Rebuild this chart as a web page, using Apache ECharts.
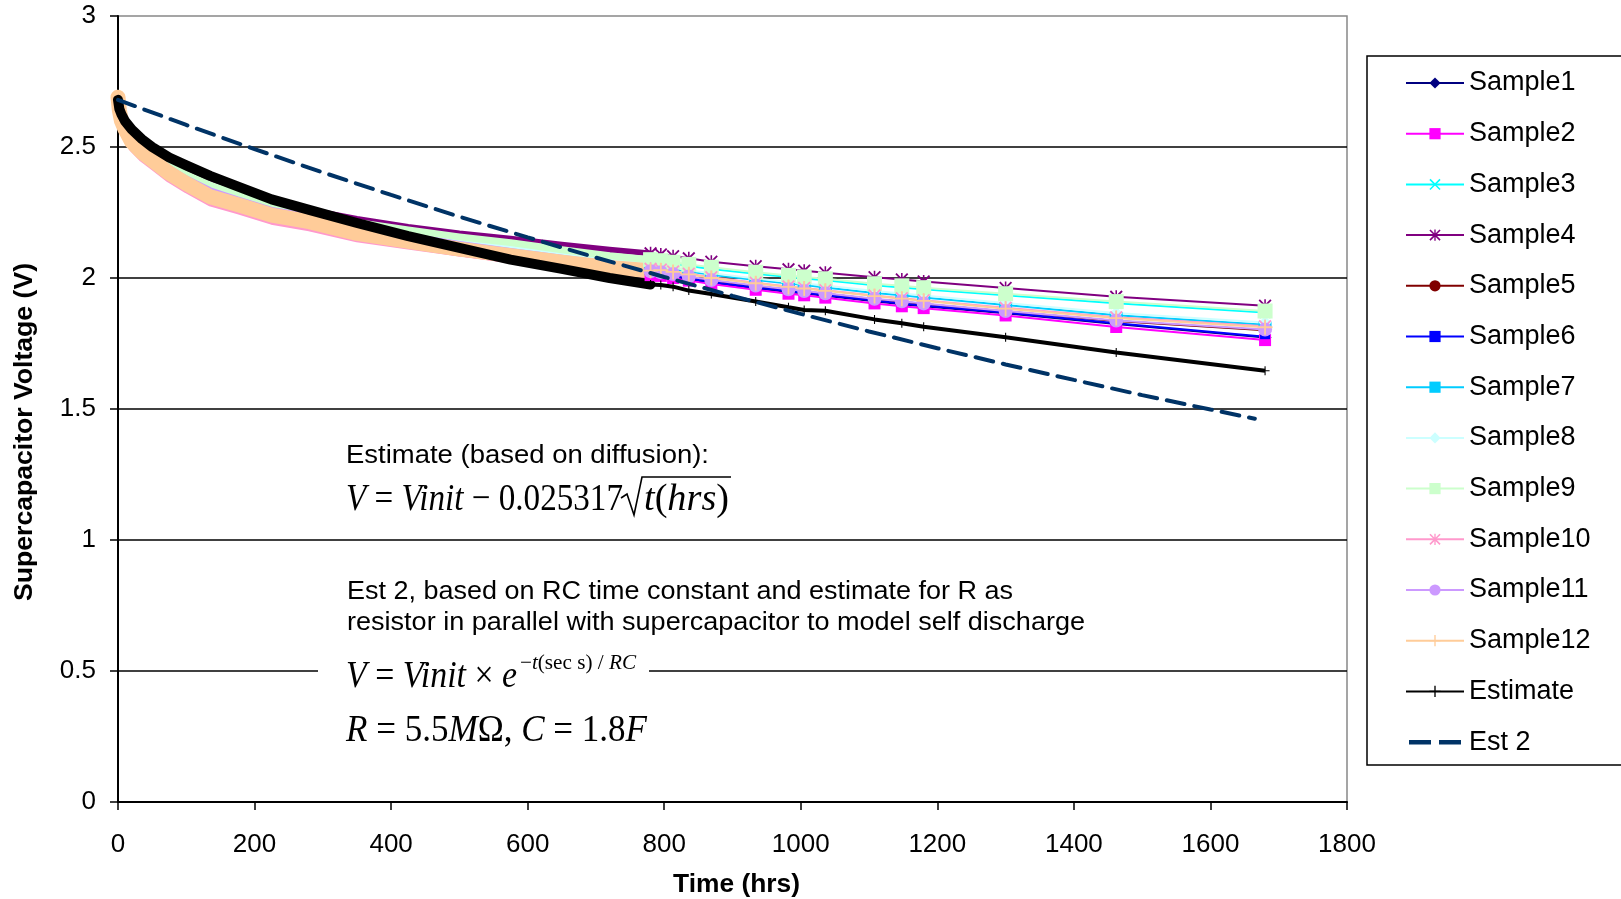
<!DOCTYPE html>
<html>
<head>
<meta charset="utf-8">
<script src="https://cdn.jsdelivr.net/npm/echarts@6/dist/echarts.min.js"></script>
<style>
  html, body { margin: 0; padding: 0; background: #fff; }
  #chart { width: 1621px; height: 899px; }
</style>
</head>
<body>
<div id="chart"></div>
<script>
// time axes (hrs)
const timeDense = [0, 2, 5, 10, 20, 35, 50, 75, 100, 135, 175, 225, 280, 350, 425, 500, 575, 650, 720, 780];
const timeSparse = [795, 813, 836, 869, 934, 982, 1005, 1036, 1108, 1148, 1180, 1300, 1462, 1680];
const timeEst2 = [0, 100, 200, 300, 400, 500, 600, 700, 800, 900, 1000, 1100, 1200, 1300, 1400, 1500, 1600, 1665];

// voltages, dense logging period (0-780 hrs)
const sample1Dense = [2.69, 2.632, 2.592, 2.562, 2.510, 2.469, 2.439, 2.389, 2.349, 2.299, 2.269, 2.229, 2.203, 2.159, 2.128, 2.098, 2.072, 2.047, 2.027, 2.015];
const sample2Dense = [2.69, 2.628, 2.588, 2.558, 2.506, 2.465, 2.435, 2.385, 2.345, 2.295, 2.265, 2.225, 2.199, 2.155, 2.124, 2.094, 2.068, 2.043, 2.023, 2.011];
const sample3Dense = [2.69, 2.645, 2.615, 2.585, 2.545, 2.505, 2.475, 2.425, 2.39, 2.35, 2.315, 2.275, 2.244, 2.206, 2.177, 2.151, 2.129, 2.102, 2.079, 2.064];
const sample4Dense = [2.70, 2.66, 2.63, 2.60, 2.56, 2.52, 2.49, 2.44, 2.40, 2.36, 2.33, 2.29, 2.26, 2.225, 2.195, 2.17, 2.15, 2.127, 2.108, 2.094];
const sample5Dense = [2.69, 2.638, 2.60, 2.57, 2.518, 2.477, 2.447, 2.397, 2.357, 2.307, 2.277, 2.237, 2.211, 2.167, 2.136, 2.106, 2.08, 2.055, 2.035, 2.024];
const sample6Dense = [2.69, 2.635, 2.595, 2.565, 2.513, 2.472, 2.442, 2.392, 2.352, 2.302, 2.272, 2.232, 2.206, 2.162, 2.131, 2.101, 2.075, 2.05, 2.03, 2.018];
const sample7Dense = [2.69, 2.64, 2.605, 2.575, 2.535, 2.495, 2.465, 2.415, 2.375, 2.335, 2.30, 2.26, 2.231, 2.192, 2.161, 2.134, 2.11, 2.083, 2.061, 2.045];
const sample8Dense = [2.69, 2.645, 2.61, 2.58, 2.54, 2.50, 2.47, 2.42, 2.38, 2.34, 2.305, 2.265, 2.236, 2.197, 2.166, 2.139, 2.115, 2.088, 2.066, 2.05];
const sample9Dense = [2.69, 2.65, 2.62, 2.59, 2.55, 2.51, 2.48, 2.43, 2.395, 2.355, 2.32, 2.28, 2.25, 2.212, 2.183, 2.157, 2.135, 2.108, 2.085, 2.07];
const sample10Dense = [2.68, 2.62, 2.575, 2.545, 2.495, 2.455, 2.425, 2.375, 2.335, 2.285, 2.255, 2.215, 2.19, 2.148, 2.12, 2.093, 2.072, 2.05, 2.038, 2.035];
const sample11Dense = [2.70, 2.655, 2.62, 2.59, 2.54, 2.50, 2.47, 2.42, 2.38, 2.335, 2.30, 2.26, 2.236, 2.192, 2.16, 2.13, 2.103, 2.077, 2.054, 2.026];
const sample12Dense = [2.69, 2.64, 2.60, 2.57, 2.52, 2.48, 2.45, 2.40, 2.36, 2.31, 2.28, 2.24, 2.215, 2.17, 2.14, 2.11, 2.085, 2.06, 2.04, 2.028];
const estimateDense = [2.68, 2.645, 2.625, 2.60, 2.567, 2.53, 2.50, 2.46, 2.43, 2.39, 2.35, 2.30, 2.26, 2.21, 2.16, 2.115, 2.07, 2.035, 2.00, 1.975];

// voltages, later spot readings
const sample1Sparse = [2.012, 2.005, 1.995, 1.982, 1.961, 1.947, 1.941, 1.932, 1.911, 1.900, 1.892, 1.865, 1.824, 1.773];
const sample2Sparse = [2.008, 2.000, 1.990, 1.977, 1.955, 1.940, 1.934, 1.925, 1.903, 1.892, 1.885, 1.857, 1.813, 1.763];
const sample3Sparse = [2.060, 2.054, 2.046, 2.034, 2.016, 2.004, 1.998, 1.991, 1.972, 1.964, 1.957, 1.934, 1.904, 1.868];
const sample4Sparse = [2.090, 2.083, 2.075, 2.062, 2.045, 2.033, 2.028, 2.020, 2.003, 1.994, 1.987, 1.962, 1.928, 1.894];
const sample5Sparse = [2.020, 2.013, 2.004, 1.990, 1.969, 1.955, 1.948, 1.940, 1.919, 1.909, 1.901, 1.872, 1.836, 1.801];
const sample6Sparse = [2.015, 2.008, 1.998, 1.985, 1.964, 1.950, 1.944, 1.935, 1.914, 1.903, 1.895, 1.868, 1.827, 1.776];
const sample7Sparse = [2.040, 2.033, 2.025, 2.012, 1.992, 1.979, 1.973, 1.964, 1.943, 1.934, 1.926, 1.897, 1.858, 1.822];
const sample8Sparse = [2.045, 2.038, 2.030, 2.018, 1.998, 1.985, 1.979, 1.971, 1.950, 1.941, 1.933, 1.905, 1.866, 1.830];
const sample9Sparse = [2.066, 2.060, 2.052, 2.041, 2.022, 2.010, 2.004, 1.997, 1.978, 1.970, 1.963, 1.940, 1.910, 1.874];
const sample10Sparse = [2.032, 2.025, 2.016, 2.003, 1.982, 1.968, 1.962, 1.953, 1.933, 1.923, 1.915, 1.886, 1.850, 1.816];
const sample11Sparse = [2.022, 2.015, 2.006, 1.992, 1.971, 1.957, 1.950, 1.942, 1.921, 1.911, 1.903, 1.874, 1.838, 1.803];
const sample12Sparse = [2.030, 2.023, 2.014, 2.000, 1.980, 1.966, 1.960, 1.951, 1.931, 1.921, 1.913, 1.883, 1.847, 1.812];
const estimateSparse = [1.973, 1.967, 1.952, 1.939, 1.910, 1.888, 1.878, 1.875, 1.842, 1.827, 1.814, 1.774, 1.716, 1.646];

const est2Values = [2.680, 2.584, 2.492, 2.403, 2.317, 2.234, 2.155, 2.078, 2.004, 1.932, 1.863, 1.796, 1.732, 1.670, 1.611, 1.553, 1.498, 1.463];

const xTicks = [0, 1800, 200];
const yTicks = [0, 3, 0.5];

const FONT = '"Liberation Sans", Arial, sans-serif';
const SERIF = '"Liberation Serif", "Times New Roman", serif';

const X_PATH = 'path://M0,1L1,0L5,4L9,0L10,1L6,5L10,9L9,10L5,6L1,10L0,9L4,5Z';
const STAR_PATH = 'path://M0,1L1,0L5,4L9,0L10,1L6,5L10,9L9,10L5,6L1,10L0,9L4,5Z M4.4,0L5.6,0L5.6,10L4.4,10Z';
const PLUS_PATH = 'path://M4.4,0L5.6,0L5.6,4.4L10,4.4L10,5.6L5.6,5.6L5.6,10L4.4,10L4.4,5.6L0,5.6L0,4.4L4.4,4.4Z';
const DASH_ICON = 'path://M0,0h0.01v0.01h-0.01z M0,5h22v4.5h-22z M30,5h22v4.5h-22z M51.99,13.99h0.01v0.01h-0.01z';

function pairs(ts, vs) {
    return vs.map((v, i) => [ts[i], v]);
}

let samples = [
    ['Sample1', '#000080', 'diamond', 13, sample1Dense, sample1Sparse, 6],
    ['Sample2', '#FF00FF', 'rect', 12, sample2Dense, sample2Sparse, 6],
    ['Sample3', '#00FFFF', X_PATH, 12, sample3Dense, sample3Sparse, 6],
    ['Sample4', '#800080', STAR_PATH, 13, sample4Dense, sample4Sparse, 6],
    ['Sample5', '#800000', 'circle', 10, sample5Dense, sample5Sparse, 6],
    ['Sample6', '#0000FF', 'rect', [10, 5], sample6Dense, sample6Sparse, 6],
    ['Sample7', '#00CCFF', 'rect', [13, 6], sample7Dense, sample7Sparse, 6],
    ['Sample8', '#CCFFFF', 'diamond', 13, sample8Dense, sample8Sparse, 6],
    ['Sample9', '#CCFFCC', 'rect', 15, sample9Dense, sample9Sparse, 7],
    ['Sample10', '#FF99CC', STAR_PATH, 13, sample10Dense, sample10Sparse, 6],
    ['Sample11', '#CC99FF', 'circle', 14, sample11Dense, sample11Sparse, 6],
    ['Sample12', '#FFCC99', PLUS_PATH, 15, sample12Dense, sample12Sparse, 15],
    ['Estimate', '#000000', PLUS_PATH, 9, estimateDense, estimateSparse, 10],
];

let legendSeries = [];
let denseSeries = [];
samples.forEach(function (s) {
    let [name, color, symbol, size, dense, sparse, denseWidth] = s;
    let isEst = name === 'Estimate';
    legendSeries.push({
        name: name,
        type: 'line',
        color: color,
        symbol: symbol,
        symbolSize: size,
        showAllSymbol: true,
        data: [[timeDense[timeDense.length - 1], dense[dense.length - 1]]].concat(pairs(timeSparse, sparse)),
        lineStyle: { width: isEst ? 4 : 2, color: color },
        itemStyle: { color: color },
        z: 2,
    });
    denseSeries.push({
        name: name,
        type: 'line',
        color: color,
        symbol: 'none',
        data: pairs(timeDense, dense),
        lineStyle: { width: denseWidth, color: color, join: 'round', cap: 'round' },
        z: 2,
    });
});

legendSeries.push({
    name: 'Est 2',
    type: 'line',
    color: '#003366',
    symbol: 'none',
    data: pairs(timeEst2, est2Values),
    lineStyle: { width: 4, color: '#003366', type: [18, 10], cap: 'round' },
    z: 5,
});

// text helpers
let measureCtx = document.createElement('canvas').getContext('2d');
function measure(str, style, weight, size, family) {
    measureCtx.font = style + ' ' + weight + ' ' + size + 'px ' + family;
    return measureCtx.measureText(str).width;
}

function mathLine(runs, left, cy, size, target) {
    let x = 0;
    let children = [];
    runs.forEach(function (r) {
        let style = r[1] ? 'italic' : 'normal';
        children.push({
            type: 'text', x: x, y: 0, z: 100,
            style: { text: r[0], fontFamily: SERIF, fontSize: size, fontStyle: style, fill: '#000', align: 'left', verticalAlign: 'middle' },
        });
        x += measure(r[0], style, 'normal', size, SERIF);
    });
    return { type: 'group', x: left, y: cy, scaleX: target / x, children: children };
}

function sansLine(str, left, cy, size, target, bold) {
    let w = measure(str, 'normal', bold ? 'bold' : 'normal', size, FONT);
    return {
        type: 'text', x: left, y: cy, scaleX: target / w, z: 100,
        style: { text: str, fontFamily: FONT, fontSize: size, fontWeight: bold ? 'bold' : 'normal', fill: '#000', align: 'left', verticalAlign: 'middle' },
    };
}

let yTitleW = measure('Supercapacitor Voltage (V)', 'normal', 'bold', 25, FONT);
let graphics = [
    {
        type: 'rect', z: 90,
        shape: { x: 318, y: 652, width: 331, height: 42 },
        style: { fill: '#fff' },
    },
    {
        type: 'text', x: 25, y: 432, rotation: Math.PI / 2, scaleX: 338 / yTitleW, z: 100,
        style: { text: 'Supercapacitor Voltage (V)', fontFamily: FONT, fontSize: 25, fontWeight: 'bold', fill: '#000', align: 'center', verticalAlign: 'middle' },
    },
    sansLine('Time (hrs)', 673, 885, 25, 127, true),
    sansLine('Estimate (based on diffusion):', 346, 456, 25, 363, false),
    mathLine([['V', 1], [' = ', 0], ['Vinit', 1], [' \u2212 ', 0], ['0.025317', 0]], 346, 500, 38, 277),
    {
        type: 'polyline', z: 100,
        shape: { points: [[621, 498], [627, 494], [634, 515], [642, 477], [731, 477]] },
        style: { stroke: '#000', lineWidth: 1.6, fill: null },
    },
    mathLine([['t', 1], ['(', 0], ['hrs', 1], [')', 0]], 644, 500, 38, 85),
    sansLine('Est 2, based on RC time constant and estimate for R as', 347, 592, 25, 666, false),
    sansLine('resistor in parallel with supercapacitor to model self discharge', 347, 623, 25, 738, false),
    mathLine([['V', 1], [' = ', 0], ['Vinit', 1], [' \u00d7 ', 0], ['e', 1]], 346, 677, 38, 171),
    mathLine([['\u2212', 0], ['t', 1], ['(sec s)', 0], [' / ', 0], ['RC', 1]], 520, 663, 21, 116),
    mathLine([['R', 1], [' = ', 0], ['5.5', 0], ['M', 1], ['\u03a9', 0], [', ', 0], ['C', 1], [' = ', 0], ['1.8', 0], ['F', 1]], 346, 731, 38, 301),
];

let legendData = samples.map(s => s[0]).concat([{ name: 'Est 2', icon: DASH_ICON }]);

let chart = echarts.init(document.getElementById('chart'));
chart.setOption({
    animation: false,
    backgroundColor: '#fff',
    textStyle: { fontFamily: FONT },
    grid: {
        left: 118, top: 16, width: 1229, height: 786,
        show: true, borderColor: '#888', borderWidth: 1.5, backgroundColor: '#fff',
    },
    legend: {
        orient: 'vertical',
        left: 1367, top: 56,
        padding: [12, 80, 8, 38],
        itemWidth: 58, itemHeight: 14, itemGap: 20.7,
        borderColor: '#000', borderWidth: 1.5,
        textStyle: { fontSize: 27, color: '#000', fontFamily: FONT, lineHeight: 30 },
        data: legendData,
    },
    xAxis: {
        type: 'value',
        min: xTicks[0], max: xTicks[1], interval: xTicks[2],
        axisLine: { show: true, lineStyle: { color: '#000', width: 2 } },
        axisTick: { show: true, length: 8, lineStyle: { color: '#000', width: 1.5 } },
        axisLabel: { fontSize: 26, color: '#000', margin: 30, fontFamily: FONT, formatter: v => String(v) },
        splitLine: { show: false },
    },
    yAxis: {
        type: 'value',
        min: yTicks[0], max: yTicks[1], interval: yTicks[2],
        axisLine: { show: true, lineStyle: { color: '#000', width: 2 } },
        axisTick: { show: true, length: 8, lineStyle: { color: '#000', width: 1.5 } },
        axisLabel: { fontSize: 26, color: '#000', margin: 22, fontFamily: FONT },
        splitLine: { show: true, showMaxLine: false, lineStyle: { color: '#000', width: 1.5 } },
    },
    graphic: graphics,
    series: legendSeries.concat(denseSeries),
});
</script>
</body>
</html>
